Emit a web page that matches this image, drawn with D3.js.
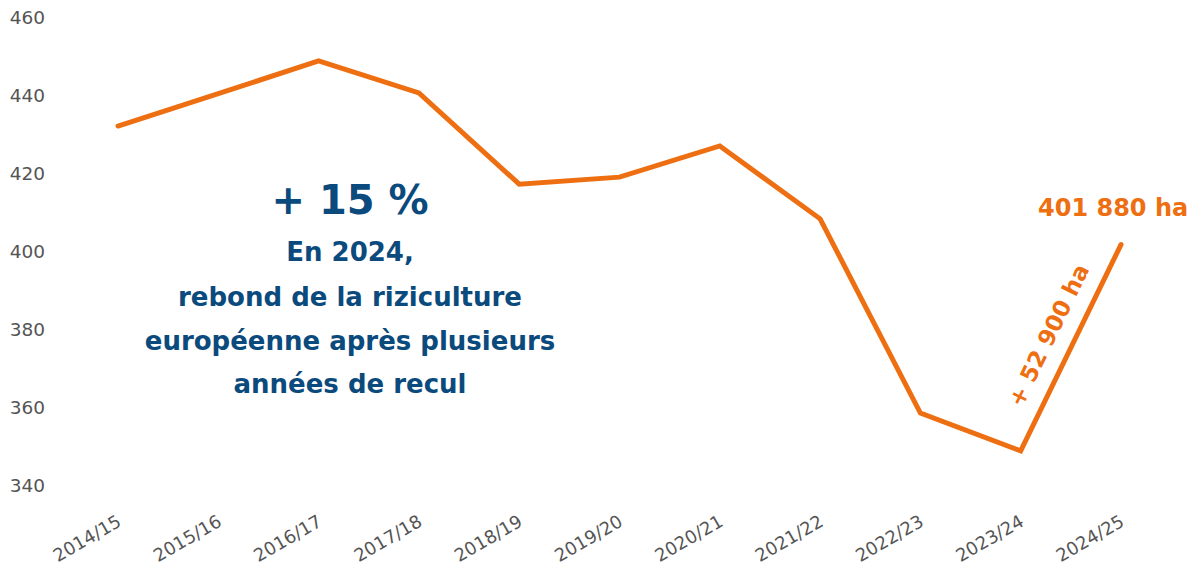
<!DOCTYPE html>
<html>
<head>
<meta charset="utf-8">
<script src="https://cdn.jsdelivr.net/npm/d3@7"></script>
<style>
  body { margin: 0; background: #fff; }
  svg { display: block; font-family: "DejaVu Sans", "Open Sans", sans-serif; }
</style>
</head>
<body>
<svg id="chart" width="1196" height="565"></svg>
<script>
const seasons = ["2014/15", "2015/16", "2016/17", "2017/18", "2018/19", "2019/20",
  "2020/21", "2021/22", "2022/23", "2023/24", "2024/25"];
// surface in thousand hectares
const surface = [432.3, 440.6, 449.0, 440.8, 417.4, 419.2, 427.2, 408.5, 358.7, 349.0, 401.9];
const yTicks = [340, 360, 380, 400, 420, 440, 460];

const orange = "#EE6F12";
const blue = "#0B4A7C";
const grey = "#555";

const svg = d3.select("#chart");

const x = d3.scalePoint()
  .domain(seasons)
  .range([118, 1121]);

const y = d3.scaleLinear()
  .domain([340, 460])
  .range([486, 18]);

// y axis, labels only
const yAxis = svg.append("g")
  .attr("transform", "translate(45,0)")
  .call(d3.axisLeft(y).tickValues(yTicks).tickSize(0).tickPadding(0));
yAxis.select(".domain").remove();
yAxis.selectAll("text")
  .style("font-family", "'DejaVu Sans', sans-serif")
  .style("font-size", "18.5px")
  .style("fill", grey);

// x axis, rotated labels
const xAxis = svg.append("g")
  .attr("transform", "translate(0,500)")
  .call(d3.axisBottom(x).tickSize(0).tickPadding(0));
xAxis.select(".domain").remove();
xAxis.selectAll("text")
  .style("font-family", "'DejaVu Sans', sans-serif")
  .style("font-size", "18px")
  .style("fill", grey)
  .attr("text-anchor", "end")
  .attr("dy", 0)
  .attr("transform", "translate(4,25) rotate(-30)");

// line
const line = d3.line()
  .x((d, i) => x(seasons[i]))
  .y(d => y(d));

svg.append("path")
  .datum(surface)
  .attr("fill", "none")
  .attr("stroke", orange)
  .attr("stroke-width", 5)
  .attr("stroke-linejoin", "miter")
  .attr("stroke-linecap", "round")
  .attr("d", line);

// last value label
const last = surface.length - 1;
svg.append("text")
  .attr("x", x(seasons[last]) - 83)
  .attr("y", y(surface[last]) - 29)
  .attr("fill", orange)
  .style("font-size", "24px")
  .style("font-weight", "bold")
  .text("401 880 ha");

// rise label along last segment
const x0 = x(seasons[last - 1]), y0 = y(surface[last - 1]);
const x1 = x(seasons[last]), y1 = y(surface[last]);
const ang = Math.atan2(y1 - y0, x1 - x0) * 180 / Math.PI;
svg.append("text")
  .attr("transform", `translate(${(x0 + x1) / 2 - 15},${(y0 + y1) / 2 - 9}) rotate(${ang})`)
  .attr("text-anchor", "middle")
  .attr("fill", orange)
  .style("font-size", "23px")
  .style("font-weight", "bold")
  .text("+ 52 900 ha");

// annotation block
const note = svg.append("g").attr("text-anchor", "middle").attr("fill", blue);
note.append("text")
  .attr("x", 350).attr("y", 214)
  .style("font-size", "40px")
  .style("font-weight", "bold")
  .text("+ 15 %");

const noteLines = ["En 2024,", "rebond de la riziculture", "européenne après plusieurs", "années de recul"];
const lineY = [261, 306, 350, 393];
noteLines.forEach((t, i) => {
  note.append("text")
    .attr("x", 350).attr("y", lineY[i])
    .style("font-size", "26px")
    .style("font-weight", "bold")
    .text(t);
});
</script>
</body>
</html>
